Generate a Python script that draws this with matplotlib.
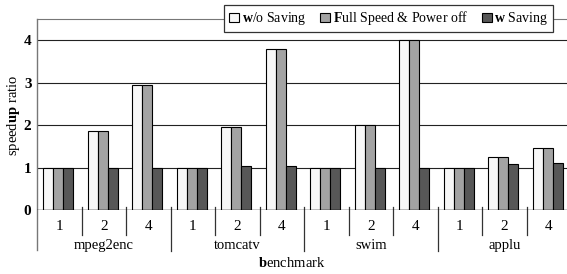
import numpy as np
import matplotlib
matplotlib.use('agg')
import matplotlib.pyplot as plt
from matplotlib.lines import Line2D

plt.rcParams['font.family'] = ['Liberation Serif', 'DejaVu Serif']
plt.rcParams['mathtext.fontset'] = 'custom'
plt.rcParams['mathtext.rm'] = 'Liberation Serif'
plt.rcParams['mathtext.bf'] = 'Liberation Serif:bold'
plt.rcParams['font.size'] = 10

benchmarks = ['mpeg2enc', 'tomcatv', 'swim', 'applu']
procs = ['1', '2', '4']
series = [r'$\mathbf{w}$/o Saving', r'$\mathbf{F}$ull Speed & Power off', r'$\mathbf{w}$ Saving']
wo_saving = [1.0, 1.86, 2.94, 1.0, 1.96, 3.80, 1.0, 2.00, 4.00, 1.0, 1.24, 1.47]
full_speed = [1.0, 1.86, 2.94, 1.0, 1.96, 3.80, 1.0, 2.00, 4.00, 1.0, 1.24, 1.47]
w_saving = [1.0, 1.0, 1.0, 1.0, 1.04, 1.04, 1.0, 1.0, 1.0, 1.0, 1.08, 1.12]
colors = ['#f7f7f7', '#a3a3a3', '#575757']

W, H = 567, 274
fig = plt.figure(figsize=(W / 100, H / 100), dpi=100)
left, right, bot, top = 37, 571, 210, 19.3
ax = fig.add_axes([left / W, 1 - bot / H, (right - left) / W, (bot - top) / H])

n = len(wo_saving)
x = np.arange(n) + 0.48
bw = 0.225
for k, vals in enumerate([wo_saving, full_speed, w_saving]):
    ax.bar(x + (k - 1) * bw, vals, bw, color=colors[k], edgecolor='black',
           linewidth=0.8, label=series[k], zorder=3)

ax.set_xlim(0, n)
ax.set_ylim(0, 4.5)
ax.set_yticks([0, 1, 2, 3, 4])
ax.set_yticklabels(['0', '1', '2', '3', '4'], fontweight='bold', fontsize=11)
ax.tick_params(axis='y', length=0, pad=4)
ax.set_xticks([])
for yv in [1, 2, 3, 4]:
    ax.axhline(yv, color='#222222', lw=0.8, zorder=1)
ax.axhline(0, color='black', lw=1.0, zorder=4)

for s in ['right', 'bottom']:
    ax.spines[s].set_visible(False)
ax.spines['top'].set_color('#777777')
ax.spines['left'].set_visible(False)

# hierarchical x axis
trans = ax.get_xaxis_transform()
ax.add_line(Line2D([0, 0], [1, -40 / (bot - top)], transform=trans, color='#777777',
                   lw=1.0, clip_on=False))
for i in range(1, n):
    lo = -41 / (bot - top) if i % 3 == 0 else -25 / (bot - top)
    ax.add_line(Line2D([i, i], [3 / (bot - top), lo], transform=trans, color='#333333',
                       lw=0.9, clip_on=False))
for i in range(n):
    ax.text(i + 0.5, -16.5 / (bot - top), procs[i % 3], transform=trans,
            ha='center', va='center', fontsize=11)
for g, name in enumerate(benchmarks):
    ax.text(g * 3 + 1.5, -35.5 / (bot - top), name, transform=trans,
            ha='center', va='center', fontsize=10.5)

fig.text(292 / W, 1 - 263 / H, r'$\mathbf{b}$enchmark', ha='center', va='center', fontsize=10.5)
fig.text(14 / W, 1 - 115 / H, r'speed$\mathbf{up}$ ratio', ha='center', va='center',
         rotation=90, fontsize=10.5)

leg = ax.legend(loc='upper right', bbox_to_anchor=(553 / W, 1 - 4.5 / H),
                bbox_transform=fig.transFigure, ncol=3, fancybox=False, frameon=True,
                handlelength=0.7, handleheight=0.7, handletextpad=0.2, columnspacing=1.0,
                borderpad=0.35, borderaxespad=0, fontsize=10)
leg.get_frame().set_edgecolor('#333333')
leg.get_frame().set_linewidth(0.9)
leg.get_frame().set_alpha(1)
leg.set_zorder(10)

fig.savefig('out.png', dpi=100)
